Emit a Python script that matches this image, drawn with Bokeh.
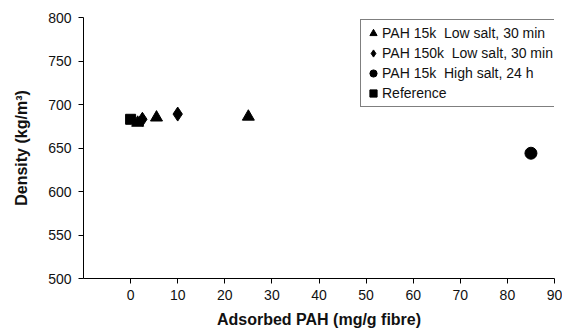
from bokeh.plotting import figure
from bokeh.models import FixedTicker, Range1d, Legend, LegendItem
from bokeh.embed import file_html
from bokeh.resources import INLINE

# Data
tri_x = [1.5, 5.5, 25.0]
tri_y = [679, 685, 686]
dia_x = [2.5, 10.0]
dia_y = [683, 689]
circ_x = [85.0]
circ_y = [644]
sq_x = [0.0]
sq_y = [683]

labels = ["PAH 15k\u00a0 Low salt, 30 min",
          "PAH 150k\u00a0 Low salt, 30 min",
          "PAH 15k\u00a0 High salt, 24 h",
          "Reference"]
x_ticks = [0, 10, 20, 30, 40, 50, 60, 70, 80, 90]
y_ticks = [500, 550, 600, 650, 700, 750, 800]

FONT = "Liberation Sans"

p = figure(width=562, height=333, output_backend="svg", toolbar_location=None,
           x_range=Range1d(-10, 90), y_range=Range1d(500, 800),
           min_border_left=83, min_border_right=8, min_border_top=17, min_border_bottom=55)
p.outline_line_color = None
p.xgrid.visible = False
p.ygrid.visible = False
p.background_fill_color = "white"

r_sq = p.scatter(sq_x, sq_y, marker="square", size=10, color="black")
r_tri = p.scatter(tri_x, tri_y, marker="triangle", size=12, color="black")
r_dia = p.scatter(dia_x, dia_y, marker="diamond", size=14, color="black")
r_circ = p.scatter(circ_x, circ_y, marker="circle", size=12, color="black")

for ax in (p.xaxis[0], p.yaxis[0]):
    ax.axis_line_color = "black"
    ax.major_tick_line_color = "black"
    ax.minor_tick_line_color = None
    ax.major_tick_in = 0
    ax.major_tick_out = 5
    ax.major_label_text_font = FONT
    ax.major_label_text_font_size = "14px"
    ax.major_label_text_color = "#111111"
    ax.axis_label_text_font = FONT
    ax.axis_label_text_font_size = "16px"
    ax.axis_label_text_font_style = "bold"
    ax.axis_label_text_color = "#111111"

p.xaxis.ticker = FixedTicker(ticks=x_ticks)
p.yaxis.ticker = FixedTicker(ticks=y_ticks)
p.xaxis.axis_label = "Adsorbed PAH (mg/g fibre)"
p.yaxis.axis_label = "Density (kg/m\u00b3)"
p.xaxis.major_label_standoff = 6
p.xaxis.axis_label_standoff = 8
p.yaxis.major_label_standoff = 7
p.yaxis.axis_label_standoff = 15

legend = Legend(items=[
    LegendItem(label=labels[0], renderers=[r_tri]),
    LegendItem(label=labels[1], renderers=[r_dia]),
    LegendItem(label=labels[2], renderers=[r_circ]),
    LegendItem(label=labels[3], renderers=[r_sq]),
], location=(277, 171))
legend.border_line_color = "black"
legend.border_line_width = 1
legend.background_fill_alpha = 1
legend.label_text_font = FONT
legend.label_text_font_size = "14px"
legend.label_text_color = "#111111"
legend.glyph_width = 18
legend.glyph_height = 20
legend.label_height = 20
legend.label_standoff = 0
legend.spacing = 0
legend.padding = 3
legend.margin = 0
p.add_layout(legend, "center")

open("out.html", "w").write(file_html(p, INLINE))
